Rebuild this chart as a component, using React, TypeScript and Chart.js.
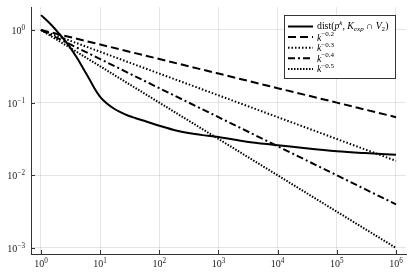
import React, { useEffect, useRef } from "react";
import { Chart, registerables } from "chart.js";
Chart.register(...registerables);

// ---- data ----
const xTickValues = [1, 10, 100, 1e3, 1e4, 1e5, 1e6];
const xTickExps = ["0", "1", "2", "3", "4", "5", "6"];
const yTickValues = [1e-3, 1e-2, 1e-1, 1];
const yTickExps = ["−3", "−2", "−1", "0"];

const distK = [1, 1.5, 2, 3, 4, 5, 6, 7, 8, 10, 13, 17, 22, 30, 40, 60, 100, 200, 500, 1000, 3000, 1e4, 3e4, 1e5, 3e5, 1e6];
const distV = [1.6, 1.17, 0.9, 0.6, 0.42, 0.31, 0.24, 0.192, 0.158, 0.12, 0.097, 0.083, 0.074, 0.066, 0.061, 0.055, 0.048, 0.041, 0.036, 0.0336, 0.029, 0.026, 0.0235, 0.0214, 0.0202, 0.0192];

const powK = [1, 10, 100, 1e3, 1e4, 1e5, 1e6];
const pow02 = [1, 0.631, 0.398, 0.251, 0.158, 0.1, 0.0631];
const pow03 = [1, 0.501, 0.251, 0.126, 0.0631, 0.0316, 0.0158];
const pow04 = [1, 0.398, 0.158, 0.0631, 0.0251, 0.01, 0.00398];
const pow05 = [1, 0.316, 0.1, 0.0316, 0.01, 0.00316, 0.001];

const powExps = ["−0.2", "−0.3", "−0.4", "−0.5"];

const X_MIN = 0.678;
const X_MAX = 1.476e6;
const Y_MIN = 8.26e-4;
const Y_MAX = 2.07;

const SERIF = '"Liberation Serif", "DejaVu Serif", serif';

type Part = { t: string; i?: boolean; s?: "sup" | "sub" };

function drawRich(ctx: CanvasRenderingContext2D, x: number, y: number, parts: Part[], size: number) {
  let cx = x;
  for (const p of parts) {
    const sz = p.s ? size * 0.72 : size;
    ctx.font = `${p.i ? "italic " : ""}${sz}px ${SERIF}`;
    const dy = p.s === "sup" ? -size * 0.38 : p.s === "sub" ? size * 0.28 : 0;
    ctx.fillText(p.t, cx, y + dy);
    cx += ctx.measureText(p.t).width;
  }
  return cx - x;
}

const toPts = (xs: number[], ys: number[]) => xs.map((x, i) => ({ x, y: ys[i] }));

const decorPlugin = {
  id: "decor",
  afterDraw(chart: any) {
    const ctx: CanvasRenderingContext2D = chart.ctx;
    const xs = chart.scales.x;
    const ys = chart.scales.y;
    const area = chart.chartArea;
    ctx.save();
    // inward tick marks
    ctx.strokeStyle = "#333";
    ctx.lineWidth = 1;
    ctx.beginPath();
    xTickValues.forEach((v) => {
      const px = Math.round(xs.getPixelForValue(v)) + 0.5;
      ctx.moveTo(px, area.bottom);
      ctx.lineTo(px, area.bottom - 4);
    });
    yTickValues.forEach((v) => {
      const py = Math.round(ys.getPixelForValue(v)) + 0.5;
      ctx.moveTo(area.left, py);
      ctx.lineTo(area.left + 4, py);
    });
    ctx.stroke();

    // tick labels
    ctx.fillStyle = "#222";
    ctx.textBaseline = "alphabetic";
    const base = 10;
    xTickValues.forEach((v, i) => {
      const px = xs.getPixelForValue(v);
      ctx.font = `${base}px ${SERIF}`;
      const w1 = ctx.measureText("10").width;
      ctx.font = `${base * 0.72}px ${SERIF}`;
      const w2 = ctx.measureText(xTickExps[i]).width;
      const x0 = px - (w1 + w2) / 2;
      drawRich(ctx, x0, area.bottom + 13, [{ t: "10" }, { t: xTickExps[i], s: "sup" }], base);
    });
    yTickValues.forEach((v, i) => {
      const py = ys.getPixelForValue(v);
      ctx.font = `${base}px ${SERIF}`;
      const w1 = ctx.measureText("10").width;
      ctx.font = `${base * 0.72}px ${SERIF}`;
      const w2 = ctx.measureText(yTickExps[i]).width;
      const x0 = area.left - 6 - (w1 + w2);
      drawRich(ctx, x0, py + 4, [{ t: "10" }, { t: yTickExps[i], s: "sup" }], base);
    });

    // legend
    const bx = 284.5, by = 15.5, bw = 111, bh = 63;
    ctx.fillStyle = "#fff";
    ctx.fillRect(bx, by, bw, bh);
    ctx.strokeStyle = "#333";
    ctx.lineWidth = 1;
    ctx.setLineDash([]);
    ctx.strokeRect(bx, by, bw, bh);
    const rowY0 = 26.5;
    const rowH = 10.6;
    chart.data.datasets.forEach((ds: any, i: number) => {
      const y = rowY0 + i * rowH;
      ctx.strokeStyle = "#000";
      ctx.lineWidth = ds.borderWidth;
      ctx.setLineDash(ds.borderDash || []);
      ctx.beginPath();
      ctx.moveTo(288, y);
      ctx.lineTo(313, y);
      ctx.stroke();
      ctx.setLineDash([]);
      ctx.fillStyle = "#000";
      ctx.textBaseline = "middle";
      if (i === 0) {
        drawRich(
          ctx,
          317,
          y,
          [
            { t: "dist(" },
            { t: "p", i: true },
            { t: "k", i: true, s: "sup" },
            { t: ", " },
            { t: "K", i: true },
            { t: "exp", i: true, s: "sub" },
            { t: " ∩ " },
            { t: "V", i: true },
            { t: "2", s: "sub" },
            { t: ")" },
          ],
          9.8
        );
      } else {
        drawRich(ctx, 317, y + 1, [{ t: "k", i: true }, { t: powExps[i - 1], s: "sup" }], 9.8);
      }
    });
    ctx.restore();
  },
};

export default function App() {
  const ref = useRef<HTMLCanvasElement | null>(null);
  useEffect(() => {
    if (!ref.current) return;
    const chart = new Chart(ref.current, {
      type: "line",
      data: {
        datasets: [
          { label: "dist", data: toPts(distK, distV), borderColor: "#000", borderWidth: 2, pointRadius: 0, cubicInterpolationMode: "monotone", borderDash: [] },
          { label: "k^-0.2", data: toPts(powK, pow02), borderColor: "#000", borderWidth: 2, pointRadius: 0, borderDash: [8, 4] },
          { label: "k^-0.3", data: toPts(powK, pow03), borderColor: "#000", borderWidth: 2, pointRadius: 0, borderDash: [1.5, 2] },
          { label: "k^-0.4", data: toPts(powK, pow04), borderColor: "#000", borderWidth: 2, pointRadius: 0, borderDash: [7, 3, 2, 3] },
          { label: "k^-0.5", data: toPts(powK, pow05), borderColor: "#000", borderWidth: 2, pointRadius: 0, borderDash: [1.5, 1.5] },
        ] as any,
      },
      options: {
        responsive: false,
        animation: false,
        events: [],
        layout: { padding: { left: 31, right: 9, top: 7, bottom: 23 } },
        plugins: { legend: { display: false }, tooltip: { enabled: false } },
        scales: {
          x: {
            type: "logarithmic",
            min: X_MIN,
            max: X_MAX,
            afterBuildTicks: (s: any) => {
              s.ticks = xTickValues.map((v) => ({ value: v }));
            },
            ticks: { display: false },
            grid: { color: "rgba(0,0,0,0.1)", lineWidth: 1, drawTicks: false },
            border: { display: true, color: "#333", width: 1 },
          },
          y: {
            type: "logarithmic",
            min: Y_MIN,
            max: Y_MAX,
            afterBuildTicks: (s: any) => {
              s.ticks = yTickValues.map((v) => ({ value: v }));
            },
            ticks: { display: false },
            grid: { color: "rgba(0,0,0,0.1)", lineWidth: 1, drawTicks: false },
            border: { display: true, color: "#333", width: 1 },
          },
        },
      } as any,
      plugins: [decorPlugin],
    });
    return () => chart.destroy();
  }, []);
  return (
    <div style={{ position: "fixed", left: 0, top: 0, width: 415, height: 277, background: "#fff" }}>
      <canvas ref={ref} width={415} height={277} style={{ width: 415, height: 277, display: "block" }} />
    </div>
  );
}
